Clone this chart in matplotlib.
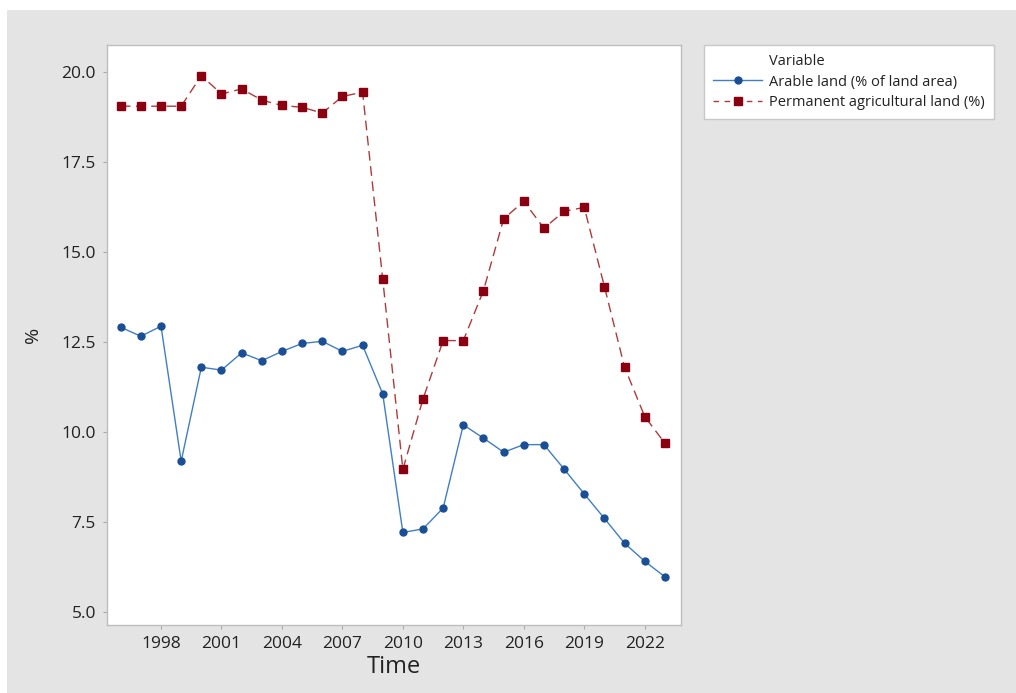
import matplotlib
matplotlib.use("Agg")
import matplotlib.pyplot as plt
from matplotlib.lines import Line2D
from matplotlib.patches import Rectangle

years = list(range(1996, 2024))
arable = [12.90, 12.65, 12.93, 9.18, 11.79, 11.71, 12.19, 11.97, 12.23, 12.45,
          12.51, 12.23, 12.40, 11.05, 7.20, 7.30, 7.88, 10.19, 9.82, 9.43,
          9.64, 9.64, 8.96, 8.27, 7.59, 6.90, 6.40, 5.97]
permanent = [19.04, 19.04, 19.04, 19.04, 19.89, 19.38, 19.52, 19.21, 19.06, 19.01,
             18.85, 19.31, 19.43, 14.24, 8.95, 10.91, 12.53, 12.53, 13.92, 15.91,
             16.40, 15.65, 16.12, 16.23, 14.03, 11.79, 10.42, 9.68]
xticks = [1998, 2001, 2004, 2007, 2010, 2013, 2016, 2019, 2022]
yticks = [5.0, 7.5, 10.0, 12.5, 15.0, 17.5, 20.0]
labels = ["Arable land (% of land area)", "Permanent agricultural land (%)"]

plt.rcParams['font.family'] = ['Open Sans', 'DejaVu Sans']

fig = plt.figure(figsize=(10.16, 6.93), dpi=100)
fig.patch.set_facecolor('white')
fig.add_artist(Rectangle((7/1016, 0), 1 - 7/1016, 1 - 10/693, transform=fig.transFigure,
                         facecolor='#e4e4e4', edgecolor='none', zorder=0))

ax = fig.add_axes([107/1016, 1 - 625/693, (681 - 107)/1016, (625 - 45)/693])
ax.set_facecolor('white')

blue_line = '#3f7fc4'
blue_mk = '#1b4f95'
red_line = '#b03a3a'
red_mk = '#8a0010'

ax.plot(years, arable, color=blue_line, lw=1.0, marker='o', ms=5,
        mfc=blue_mk, mec=blue_mk, zorder=3)
ax.plot(years, permanent, color=red_line, lw=1.0, ls=(0, (7, 4)), marker='s', ms=5.5,
        mfc=red_mk, mec=red_mk, zorder=3)

ax.set_xlim(1995.32, 2023.8)
ax.set_ylim(4.63, 20.74)
ax.set_xticks(xticks)
ax.set_xticklabels([str(x) for x in xticks], fontsize=12.5, color='#222222')
ax.set_yticks(yticks)
ax.set_yticklabels([f"{y:.1f}" for y in yticks], fontsize=12.5, color='#222222')
ax.tick_params(axis='both', direction='out', length=3, color='#aaaaaa', pad=5)
for s in ax.spines.values():
    s.set_color('#bdbdbd')
    s.set_linewidth(1.0)

ax.set_xlabel('Time', fontsize=17, color='#222222', labelpad=2)
ax.set_ylabel('%', fontsize=14, color='#222222', labelpad=14)

handles = [Line2D([], [], color='none', label='Variable'),
           Line2D([], [], color=blue_line, lw=1.0, marker='o', ms=5,
                  mfc=blue_mk, mec=blue_mk),
           Line2D([], [], color=red_line, lw=1.0, ls=(0, (4, 4)), marker='s', ms=5.5,
                  mfc=red_mk, mec=red_mk)]
leg = fig.legend(handles, ['Variable'] + labels, loc='upper left',
                 bbox_to_anchor=(704/1016, 1 - 45/693), fontsize=10.5,
                 frameon=True, fancybox=False, borderpad=0.65, labelspacing=0.35,
                 handlelength=3.3, handletextpad=0.5, borderaxespad=0,
                 framealpha=1.0, facecolor='white')
leg.get_frame().set_edgecolor('#c8c8c8')
leg.get_frame().set_linewidth(1.0)
for t in leg.get_texts():
    t.set_color('#222222')

fig.savefig('out.png', dpi=100, facecolor=fig.get_facecolor())
